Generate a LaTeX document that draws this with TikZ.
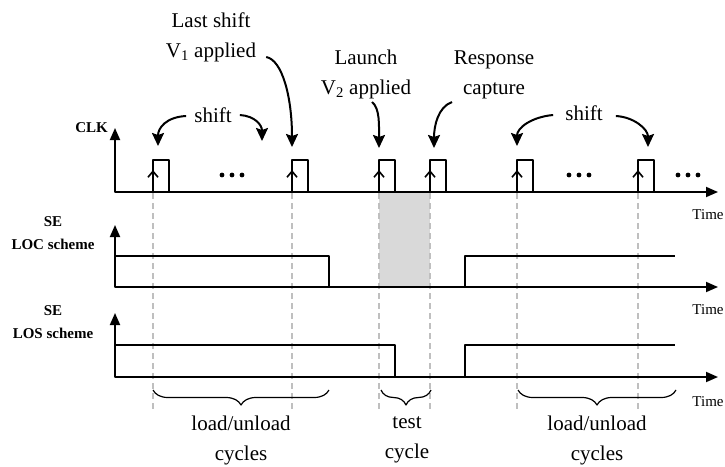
\documentclass[tikz,border=0pt]{standalone}
\usepackage{fontspec}
\setmainfont{Liberation Serif}
\usetikzlibrary{arrows.meta,decorations.pathreplacing,calc}
\tikzset{
  axis/.style={line width=1.8pt,{Triangle[length=12pt,width=10pt]}-{Triangle[length=12pt,width=10pt]}},
  signal/.style={line width=1.2pt},
  pulse/.style={line width=1.1pt},
  edgearrow/.style={line width=1.6pt,-{Straight Barb[length=6pt,width=10pt]}},
  guide/.style={gray!50,line width=1.6pt,dash pattern=on 6pt off 4pt},
  pointer/.style={line width=2pt,->},
  lbl/.style={font=\fontsize{21}{30}\selectfont,align=center,inner sep=0pt},
  sig/.style={font=\bfseries\fontsize{15}{23}\selectfont,align=center,inner sep=0pt},
  tlbl/.style={font=\fontsize{15}{16}\selectfont,inner sep=0pt},
  brc/.style={decorate,decoration={brace,mirror,amplitude=15pt},line width=1.2pt}
}
\begin{document}
\begin{tikzpicture}[x=1pt,y=-1pt,line join=round,>={Stealth[length=13pt,width=12pt,inset=2pt]}]
\useasboundingbox (0,0) rectangle (725,466);
% test window
\fill[gray!30] (379,192) rectangle (430,287);
% clock pulses
\foreach \x [count=\i] in {153,292,379,430,517,638}{
  \coordinate (p\i) at (\x,160);
  \draw[guide] (\x,193) -- (\x,410);
  \draw[pulse] (\x,192) rectangle ++(16,-32);
  \draw[edgearrow] (\x,192) -- (\x,170);
}
\foreach \c in {232,579,688} \foreach \d in {-10,0,10} \fill (\c+\d,175) circle (2.4);
% axes
\draw[axis] (115,128) -- (115,192) -- (718,192);
\draw[axis] (115,225) -- (115,287) -- (718,287);
\draw[axis] (115,313) -- (115,377) -- (718,377);
% SE waveforms
\draw[signal] (115,256) -- (329,256) -- (329,287) (465,287) -- (465,256) -- (675,256);
\draw[signal] (115,345) -- (395,345) -- (395,377) (465,377) -- (465,345) -- (675,345);
% left and right labels
\node[sig,anchor=east] (clk) at (108,128) {CLK};
\node[sig] (seloc) at (53,233) {SE\\LOC scheme};
\node[sig] (selos) at (53,322) {SE\\LOS scheme};
\node[tlbl] (time1) at (708,215) {Time};
\node[tlbl] (time2) at (708,310) {Time};
\node[tlbl] (time3) at (708,402) {Time};
% top labels
\node[lbl,anchor=south] (lastshift) at (211,62) {Last shift\\V\textsubscript{1} applied};
\node[lbl,anchor=south] (launch) at (366,99) {Launch\\V\textsubscript{2} applied};
\node[lbl,anchor=south] (capture) at (494,99) {Response\\capture};
\node[lbl] (shiftA) at (213,115) {shift};
\node[lbl] (shiftB) at (584,113) {shift};
\coordinate (gap1) at (262,141);
\draw[pointer] ($(lastshift.south east)+(10,-5)$) .. controls +(16,3) and +(0,-50) .. ($(p2)+(0,-13)$);
\draw[pointer] ($(launch.south)+(6,3)$) .. controls +(8,6) and +(0,-22) .. ($(p3)+(0,-12)$);
\draw[pointer] ($(capture.south)+(-42,3)$) .. controls +(-14,5) and +(0,-22) .. ($(p4)+(4,-12)$);
\draw[pointer] ($(shiftA.west)+(-8,1)$) .. controls +(-20,1) and +(0,-18) .. ($(p1)+(5,-14)$);
\draw[pointer] ($(shiftA.east)+(8,0)$) .. controls +(15,1) and +(0,-16) .. (gap1);
\draw[pointer] ($(shiftB.west)+(-12,2)$) .. controls +(-22,2) and +(0,-18) .. ($(p5)+(0,-14)$);
\draw[pointer] ($(shiftB.east)+(13,3)$) .. controls +(18,1) and +(0,-18) .. ($(p6)+(10,-13)$);
% braces
\draw[brc] (153,390) -- (329,390);
\draw[brc] (381,390) -- (431,390);
\draw[brc] (518,390) -- (676,390);
\node[lbl] (cycA) at (241,440) {load/unload\\cycles};
\node[lbl] (cycB) at (407,440) {test\\cycle};
\node[lbl] (cycC) at (597,440) {load/unload\\cycles};
\end{tikzpicture}
\end{document}
